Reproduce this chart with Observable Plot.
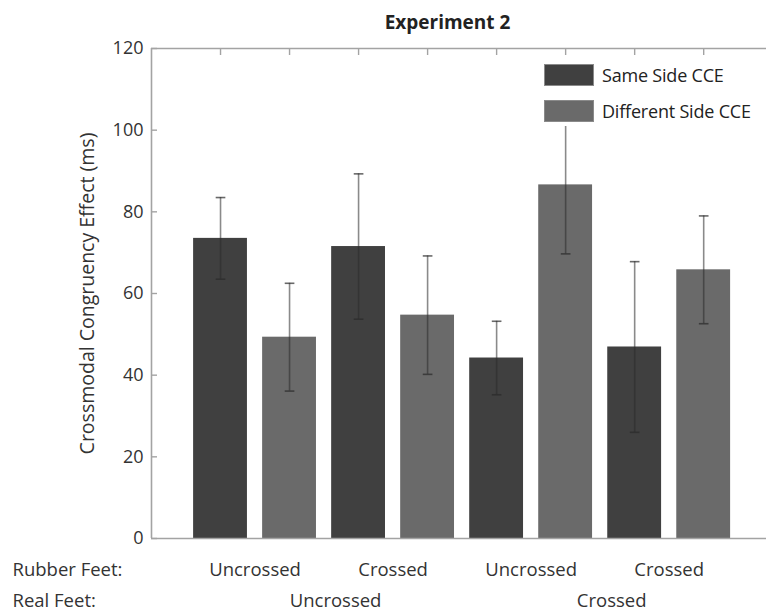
<!DOCTYPE html>
<html><head><meta charset="utf-8">
<script src="https://cdn.jsdelivr.net/npm/d3@7"></script>
<script src="https://cdn.jsdelivr.net/npm/@observablehq/plot@0.6"></script>
<style>
body{margin:0;background:#fff;font-family:"Open Sans",sans-serif;}
#wrap{position:relative;width:766px;height:611px;overflow:hidden;}
#legend{position:absolute;left:540px;top:56px;width:226px;height:70px;background:#fff;}
.item{position:absolute;left:4px;height:24px;display:flex;align-items:center;}
.sw{width:50px;height:22px;border:1px solid #8a8a8a;box-sizing:border-box;margin-right:8px;}
.lab{font-size:18px;color:#222;white-space:nowrap;letter-spacing:-0.2px;}
</style></head><body><div id="wrap"></div>
<script>
const rubberFeet = ["Uncrossed", "Crossed", "Uncrossed", "Crossed"];
const realFeet = ["Uncrossed", "Crossed"];
const series = ["Same Side CCE", "Different Side CCE"];
const sameSide = [73.5, 71.5, 44.2, 46.9];
const sameSideErr = [10.0, 17.8, 9.0, 20.9];
const diffSide = [49.3, 54.7, 86.6, 65.8];
const diffSideErr = [13.2, 14.5, 16.9, 13.2];
const yTicks = [0, 20, 40, 60, 80, 100, 120];
const colors = ["#404040", "#6a6a6a"];

// build bar table: slot positions 1..8
const bars = [];
rubberFeet.forEach((r, i) => {
  bars.push({pos: 2 * i + 1, series: series[0], value: sameSide[i], err: sameSideErr[i]});
  bars.push({pos: 2 * i + 2, series: series[1], value: diffSide[i], err: diffSideErr[i]});
});
const hw = 0.39, cw = 0.07;
const rubberLabels = rubberFeet.map((t, i) => ({pos: 2 * i + 1.5, text: t}));
const realLabels = realFeet.map((t, i) => ({pos: 4 * i + 2.5, text: t}));

const font = "Open Sans";
const plot = Plot.plot({
  width: 766, height: 611,
  marginLeft: 151, marginRight: 0, marginTop: 48, marginBottom: 73,
  style: {fontFamily: font, background: "#fff", color: "#333"},
  x: {type: "linear", domain: [0, 8.91]},
  y: {domain: [0, 120]},
  color: {domain: series, range: colors},
  marks: [
    Plot.rect(bars, {x1: d => d.pos - hw, x2: d => d.pos + hw, y1: 0, y2: "value", fill: "series"}),
    // frame
    Plot.ruleY([0, 120], {stroke: "#a3a3a3", strokeWidth: 1.6}),
    Plot.ruleX([0], {y1: 0, y2: 120, stroke: "#a3a3a3", strokeWidth: 1.6}),
    // error bars
    Plot.ruleX(bars, {x: "pos", y1: d => d.value - d.err, y2: d => d.value + d.err, stroke: "#2a2a2a", strokeOpacity: 0.55, strokeWidth: 1.6}),
    Plot.link(bars, {x1: d => d.pos - cw, x2: d => d.pos + cw, y1: d => d.value + d.err, y2: d => d.value + d.err, stroke: "#2a2a2a", strokeOpacity: 0.7, strokeWidth: 1.6}),
    Plot.link(bars, {x1: d => d.pos - cw, x2: d => d.pos + cw, y1: d => d.value - d.err, y2: d => d.value - d.err, stroke: "#2a2a2a", strokeOpacity: 0.7, strokeWidth: 1.6}),
    // axes
    Plot.axisY({ticks: yTicks, tickSize: -6, tickPadding: 14, fontSize: 18, stroke: "#a3a3a3", strokeWidth: 1.4, color: "#333", label: null}),
    Plot.text(["Crossmodal Congruency Effect (ms)"], {frameAnchor: "left", dx: -64, rotate: -90, textAnchor: "middle", fontSize: 19.5, fill: "#333"}),
    Plot.axisX({anchor: "top", ticks: [1, 2, 3, 4, 5, 6, 7, 8], tickSize: -6, tickFormat: () => "", stroke: "#a3a3a3", strokeWidth: 1.4, label: null}),
    // bottom labels
    Plot.text(rubberLabels, {x: "pos", text: "text", frameAnchor: "bottom", dy: 37, fontSize: 18.5, fill: "#333"}),
    Plot.text(realLabels, {x: "pos", text: "text", frameAnchor: "bottom", dy: 68, dx: 11.5, fontSize: 18.5, fill: "#333"}),
    Plot.text(["Rubber Feet:"], {frameAnchor: "bottom-left", dx: -139, dy: 37, textAnchor: "start", fontSize: 18.5, fill: "#333"}),
    Plot.text(["Real Feet:"], {frameAnchor: "bottom-left", dx: -139, dy: 68, textAnchor: "start", fontSize: 18.5, fill: "#333"}),
    // title
    Plot.text(["Experiment 2"], {frameAnchor: "top", dx: -11.5, dy: -33, fontSize: 19, fontWeight: "bold", fill: "#222"})
  ]
});
const wrap = document.getElementById("wrap");
wrap.appendChild(plot);
const leg = document.createElement("div");
leg.id = "legend";
series.forEach((s, i) => {
  const it = document.createElement("div");
  it.className = "item";
  it.style.top = (7 + i * 36) + "px";
  const sw = document.createElement("div");
  sw.className = "sw";
  sw.style.background = colors[i];
  const lb = document.createElement("span");
  lb.className = "lab";
  lb.textContent = s;
  it.appendChild(sw); it.appendChild(lb);
  leg.appendChild(it);
});
wrap.appendChild(leg);
</script>
</body></html>
